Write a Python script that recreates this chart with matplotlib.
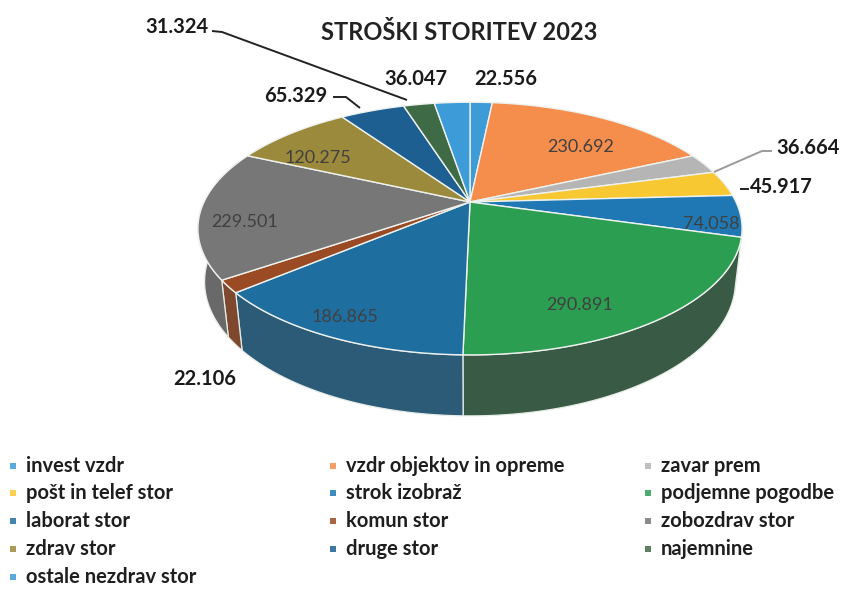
import numpy as np
import matplotlib
matplotlib.use("Agg")
import matplotlib.pyplot as plt
from matplotlib.patches import Polygon
from matplotlib.colors import to_rgb

plt.rcParams['font.family'] = ['Lato', 'DejaVu Sans']

# ---------------- data ----------------
categories = ["invest vzdr", "vzdr objektov in opreme", "zavar prem",
              "pošt in telef stor", "strok izobraž", "podjemne pogodbe",
              "laborat stor", "komun stor", "zobozdrav stor", "zdrav stor",
              "druge stor", "najemnine", "ostale nezdrav stor"]
values = [22.556, 230.692, 36.664, 45.917, 74.058, 290.891,
          186.865, 22.106, 229.501, 120.275, 65.329, 31.324, 36.047]
value_labels = ["22.556", "230.692", "36.664", "45.917", "74.058", "290.891",
                "186.865", "22.106", "229.501", "120.275", "65.329", "31.324", "36.047"]
colors = ["#3d9bd8", "#f58d4c", "#b5b5b5", "#f8c832", "#1f78b4", "#2c9e52",
          "#1f6ea0", "#9a4b24", "#777777", "#9c8a3c", "#1d5f90", "#3e6b45", "#3d9bd8"]

title = "STROŠKI STORITEV 2023"

# label placement (pixel coordinates) and style
inside = [False, True, False, False, True, True, True, False, True, True, False, False, False]
label_pos = [(506, 79), (581, 147), (808, 148), (781, 187), (711, 224), (580, 305),
             (345, 317), (205, 379), (245, 222), (318, 158), (296, 96), (177, 27), (416, 79)]
leaders = {2: [(772, 151), (762, 151), (714, 172)],
           3: [(749, 189), (740, 189)],
           10: [(333, 97), (346, 97), (360, 108)],
           11: [(212, 31), (222, 32), (407, 100)]}

# ---------------- geometry ----------------
W, H, DPI = 843, 591, 100
fig = plt.figure(figsize=(W / DPI, H / DPI), dpi=DPI)
ax = fig.add_axes([0, 0, 1, 1])
ax.set_xlim(0, W)
ax.set_ylim(H, 0)
ax.axis('off')

elev = np.deg2rad(27.0)
c, s = np.cos(elev), np.sin(elev)
Dist = 4.24
F = 266 * Dist
cx, cy = 470, 202
h = 0.225


def proj(x, y, z):
    w = Dist + z * c - y * s
    X = F * x / w
    Y = F * (y * c + z * s) / w
    return cx + X, cy - Y


def arc(t0, t1, y, n=None):
    if n is None:
        n = max(3, int(abs(t1 - t0) / np.deg2rad(0.5)) + 2)
    t = np.linspace(t0, t1, n)
    return [proj(np.sin(a), y, np.cos(a)) for a in t]


vals = np.array(values)
fr = vals / vals.sum()
bounds = np.concatenate([[0], np.cumsum(fr)]) * 2 * np.pi
dark = np.array([0.24, 0.26, 0.25])

# side walls (front half: angles between pi/2 and 3pi/2)
for i in range(len(vals)):
    t0, t1 = bounds[i], bounds[i + 1]
    a0, a1 = max(t0, np.pi / 2), min(t1, 3 * np.pi / 2)
    if a1 <= a0:
        continue
    mid = 0.5 * (a0 + a1)
    xm = np.sin(mid)
    wgt = 0.25 + 0.62 * (xm + 1) / 2
    col = (1 - wgt) * np.array(to_rgb(colors[i])) + wgt * dark
    top = arc(a0, a1, 0)
    bot = arc(a0, a1, -h)
    poly = top + bot[::-1]
    ax.add_patch(Polygon(poly, closed=True, facecolor=col,
                         edgecolor="#e6ece6", linewidth=0.9, zorder=2))

# top faces
for i in range(len(vals)):
    t0, t1 = bounds[i], bounds[i + 1]
    poly = [proj(0, 0, 0)] + arc(t0, t1, 0)
    ax.add_patch(Polygon(poly, closed=True, facecolor=colors[i],
                         edgecolor="#eef2ee", linewidth=1.0, zorder=3))

# ---------------- labels ----------------
for i, lab in enumerate(value_labels):
    x, y = label_pos[i]
    if inside[i]:
        ax.text(x, y, lab, ha='center', va='center', fontsize=13,
                color='#404040', zorder=5)
    else:
        ax.text(x, y, lab, ha='center', va='center', fontsize=14.5,
                fontweight='bold', color='#1a1a1a', zorder=5)
for i, pts in leaders.items():
    xs, ys = zip(*pts)
    lc = '#9a9a9a' if i == 2 else '#222222'
    ax.plot(xs, ys, color=lc, lw=1.4, zorder=4, solid_capstyle='butt')

ax.text(459, 32, title, ha='center', va='center', fontsize=17,
        fontweight='bold', color='#222222')

# ---------------- legend ----------------
col_x = [13, 333, 648]
row_y = [466, 493, 521, 549, 577]
for k, cat in enumerate(categories):
    r, cl = divmod(k, 3)
    x, y = col_x[cl], row_y[r]
    ax.add_patch(plt.Rectangle((x - 3, y - 3), 6, 6, facecolor=colors[k],
                               edgecolor='none', alpha=0.85))
    ax.text(x + 13, y, cat, ha='left', va='center', fontsize=14.5,
            fontweight='bold', color='#1e1e1e')

fig.savefig("out.png", dpi=DPI)
